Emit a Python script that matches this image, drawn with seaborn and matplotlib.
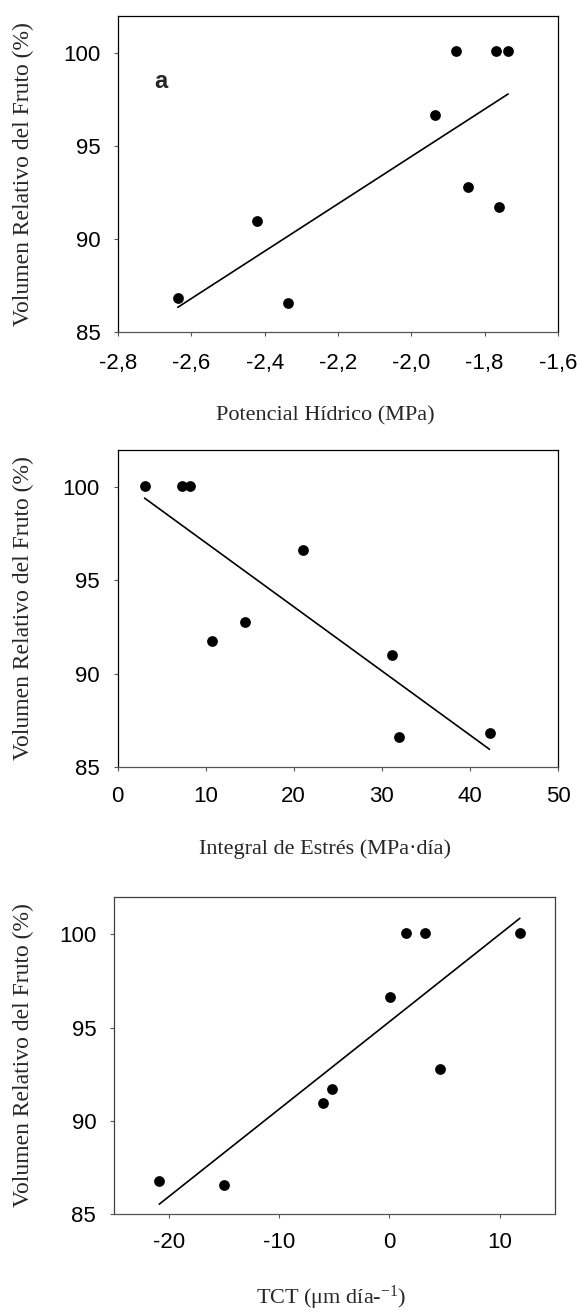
import matplotlib
matplotlib.use("Agg")
import matplotlib.pyplot as plt
import seaborn as sns
import numpy as np
import pandas as pd

# ---------------- data ----------------
rel_volume = [86.83, 91.0, 86.58, 96.67, 100.1, 92.8, 100.1, 91.75, 100.1]

water_potential = [-2.637, -2.42, -2.336, -1.936, -1.877, -1.845, -1.769, -1.761, -1.736]

stress_vol = [100.05, 100.05, 100.05, 96.63, 91.73, 92.77, 90.99, 86.58, 86.83]
stress_integral = [3.07, 7.35, 8.19, 21.1, 10.67, 14.45, 31.18, 31.93, 42.23]

tct_vol = [86.79, 86.56, 90.96, 91.71, 96.65, 100.05, 100.05, 92.77, 100.05]
tct = [-20.87, -14.99, -6.04, -5.23, 0.03, 1.48, 3.20, 4.58, 11.84]

yticks = [85, 90, 95, 100]
xticks1 = [-2.8, -2.6, -2.4, -2.2, -2.0, -1.8, -1.6]
xticklabels1 = ["-2,8", "-2,6", "-2,4", "-2,2", "-2,0", "-1,8", "-1,6"]
xticks2 = [0, 10, 20, 30, 40, 50]
xticklabels2 = ["0", "10", "20", "30", "40", "50"]
xticks3 = [-20, -10, 0, 10]
xticklabels3 = ["-20", "-10", "0", "10"]

ylabel = "Volumen Relativo del Fruto (%)"
xlabel1 = "Potencial Hídrico (MPa)"
xlabel2 = "Integral de Estrés (MPa·día)"
xlabel3 = "TCT (μm día-$^{-1}$)"

# ---------------- style ----------------
sns.set_style("ticks")
plt.rcParams["font.family"] = ["Liberation Sans", "DejaVu Sans"]
plt.rcParams["mathtext.fontset"] = "custom"
plt.rcParams["mathtext.rm"] = "Liberation Serif"
plt.rcParams["mathtext.it"] = "Liberation Serif:italic"

W, H = 580, 1313
fig = plt.figure(figsize=(W / 100, H / 100), dpi=100)

def add_axes_px(left, right, top, bottom):
    return fig.add_axes([left / W, 1 - bottom / H, (right - left) / W, (bottom - top) / H])

panels = [
    dict(box=(118, 558, 15.7, 332.3), x=water_potential, y=rel_volume, xlim=(-2.8, -1.6),
         xt=xticks1, xtl=xticklabels1, xl=xlabel1, xl_pos=(325, 420.7), pad=11.5, sc="black"),
    dict(box=(117.5, 558, 450, 766.7), x=stress_integral, y=stress_vol, xlim=(0, 50),
         xt=xticks2, xtl=xticklabels2, xl=xlabel2, xl_pos=(325, 854), pad=11, sc="black"),
    dict(box=(113.7, 554.7, 897, 1214), x=tct, y=tct_vol, xlim=(-25, 15),
         xt=xticks3, xtl=xticklabels3, xl=xlabel3, xl_pos=(331, 1304), pad=9.5, sc="#404040"),
]

for i, p in enumerate(panels):
    l, r, t, b = p["box"]
    ax = add_axes_px(l, r, t, b)
    df = pd.DataFrame({"x": p["x"], "y": p["y"]})
    sns.regplot(data=df, x="x", y="y", ax=ax, ci=None, truncate=True, color="black",
                scatter_kws=dict(s=60, linewidths=0, color="black", alpha=1, zorder=3),
                line_kws=dict(linewidth=1.2, color="black"))
    ax.set_xlim(*p["xlim"])
    ax.set_ylim(85, 102)
    ax.set_xticks(p["xt"])
    ax.set_xticklabels(p["xtl"])
    ax.set_yticks(yticks)
    ax.set_yticklabels([str(v) for v in yticks])
    ax.tick_params(axis="both", direction="out", length=3.2, width=0.8, color="#555555",
                   labelsize=16, labelcolor="black")
    ax.tick_params(axis="y", pad=9.4)
    ax.tick_params(axis="x", pad=p["pad"])
    for side, sp in ax.spines.items():
        sp.set_visible(True)
        sp.set_linewidth(0.9)
        sp.set_color(p["sc"])
    ax.spines["bottom"].set_color("#555555")

    # x label
    ax.set_xlabel(p["xl"], fontsize=16, family=["Liberation Serif", "DejaVu Serif"])
    xl_x, xl_y = p["xl_pos"]
    ax.xaxis.label.set_va("baseline")
    ax.xaxis.set_label_coords((xl_x - l) / (r - l), (b - xl_y) / (b - t))

    # y label
    ax.set_ylabel(ylabel, fontsize=17, family=["Liberation Serif", "DejaVu Serif"])
    ax.yaxis.label.set_va("center")
    ax.yaxis.set_label_coords((23 - l) / (r - l), 0.5)

    if i == 0:
        ax.text((161 - l) / (r - l), (b - 82) / (b - t), "a", transform=ax.transAxes,
                fontsize=17, fontweight="bold", ha="center", va="center")

fig.savefig("out.png", dpi=100)
